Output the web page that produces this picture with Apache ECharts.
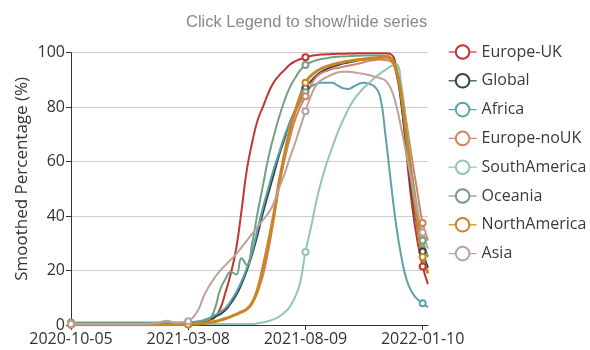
<!DOCTYPE html>
<html>
<head>
<meta charset="utf-8">
<script src="https://cdn.jsdelivr.net/npm/echarts@6/dist/echarts.min.js"></script>
<style>html,body{margin:0;padding:0;background:#fff;}#c{width:590px;height:350px;}</style>
</head>
<body>
<div id="c"></div>
<script>
const categories = [
'2020-10-05','2020-10-12','2020-10-19','2020-10-26','2020-11-02','2020-11-09','2020-11-16','2020-11-23','2020-11-30','2020-12-07',
'2020-12-14','2020-12-21','2020-12-28','2021-01-04','2021-01-11','2021-01-18','2021-01-25','2021-02-01','2021-02-08','2021-02-15',
'2021-02-22','2021-03-01','2021-03-08','2021-03-15','2021-03-22','2021-03-29','2021-04-05','2021-04-12','2021-04-19','2021-04-26',
'2021-05-03','2021-05-10','2021-05-17','2021-05-24','2021-05-31','2021-06-07','2021-06-14','2021-06-21','2021-06-28','2021-07-05',
'2021-07-12','2021-07-19','2021-07-26','2021-08-02','2021-08-09','2021-08-16','2021-08-23','2021-08-30','2021-09-06','2021-09-13',
'2021-09-20','2021-09-27','2021-10-04','2021-10-11','2021-10-18','2021-10-25','2021-11-01','2021-11-08','2021-11-15','2021-11-22',
'2021-11-29','2021-12-06','2021-12-13','2021-12-20','2021-12-27','2022-01-03','2022-01-10','2022-01-17'];

const europeUK = [0.2,0.2,0.2,0.2,0.2,0.2,0.2,0.2,0.2,0.2,0.3,0.3,0.3,0.3,0.3,0.3,0.4,0.4,0.4,0.4,0.4,0.5,
0.5,0.6,0.8,1.2,1.8,2.8,6,12,19,28,42,57,67,75,80,85,89,91.5,93.5,95.5,96.8,97.6,98.3,98.8,99.1,99.3,99.4,99.5,99.6,99.6,99.7,99.7,99.8,99.8,99.8,99.8,99.8,99.8,99.5,95,82,62,44,31,21.5,15];
const global = [0.4,0.4,0.4,0.4,0.4,0.4,0.4,0.4,0.4,0.4,0.4,0.4,0.4,0.4,0.4,0.4,0.5,0.5,0.5,0.5,0.5,0.5,
0.6,0.8,1.1,1.5,2.2,3,4,5.5,8,11,15,20,26,33,41,48,55,62,68,74,78.5,82.5,87,89.5,91.5,93,94,94.8,95.4,96,96.4,96.8,97.2,97.5,97.8,98,98.2,98.3,97.5,93,81,64,48,36,27,21];
const africa = [0.9,0.9,0.9,0.9,0.9,0.9,0.9,0.9,0.9,0.9,0.9,0.9,0.9,0.9,0.9,0.9,0.9,0.9,0.9,0.9,0.9,0.9,
0.9,1.1,1.4,1.9,2.6,3.6,4.8,6.3,8.8,12,16,21,27,35,43,50,57,63,69,74,78,82,85.5,87.5,88.5,89,89,89,88,87,86.7,87.5,88.5,89,88.5,87.5,84,70,53,37,25,16.5,12,9.5,8,6.5];
const europeNoUK = [0.3,0.3,0.3,0.3,0.3,0.3,0.3,0.3,0.3,0.3,0.3,0.3,0.3,0.3,0.3,0.3,0.3,0.3,0.3,0.3,0.3,0.3,
0.3,0.4,0.5,0.6,0.8,1.1,1.6,2.3,3,3.8,4.8,6,8,12,18,27,38,50,60,68,75,80,84,88,91,92.5,93.3,94,94.4,94.8,95.2,95.6,96,96.5,97,97.3,97.5,97.3,96.8,94,86,74,61,49,37.5,31];
const southAmerica = [0.4,0.4,0.4,0.4,0.4,0.4,0.4,0.4,0.4,0.4,0.4,0.4,0.4,0.4,0.4,0.4,0.4,0.4,0.4,0.4,0.4,0.4,
0.4,0.4,0.4,0.4,0.4,0.4,0.4,0.4,0.4,0.4,0.4,0.4,0.4,0.6,0.9,1.4,2.1,3,4.5,6.5,10,15.5,26.8,35.5,45,53,59.5,65,70.5,75,79,82.5,85,87.2,89,90.8,92.3,93.7,95,95.8,88,72,56,43,31,25];
const oceania = [0.6,0.6,0.6,0.6,0.6,0.6,0.6,0.6,0.6,0.6,0.6,0.6,0.6,0.6,0.6,0.6,0.6,0.6,0.6,0.6,0.6,0.6,
0.7,0.9,1.2,1.6,2.2,6,13,17,19.5,18.5,24.5,22,30,41,51,61,69,76,82,87,90.5,93.5,95.5,96.5,97.2,97.7,98,98.3,98.5,98.6,98.7,98.8,98.9,99,99,99,99,99,98.3,94.5,85,70,55,42,31,25];
const northAmerica = [0.1,0.1,0.1,0.1,0.1,0.1,0.1,0.1,0.1,0.1,0.1,0.1,0.1,0.1,0.1,0.1,0.1,0.1,0.1,0.1,0.1,0.2,
0.2,0.3,0.4,0.6,0.9,1.3,1.8,2.4,3.1,3.9,4.8,5.8,8.2,13,21,30,40,52,62,71,78,84,89,91.5,93,94.2,95,95.6,96.1,96.5,96.9,97.2,97.5,97.7,97.9,98.1,98.3,98.4,97.8,94,84,68,52,38,25,19];
const asia = [0.4,0.4,0.4,0.4,0.4,0.4,0.4,0.4,0.4,0.4,0.4,0.4,0.4,0.4,0.4,0.5,0.6,1.2,1.6,1.1,0.8,1.0,
1.4,3,6,11,14.5,17.5,20,22,24,26,28.5,31,33.5,36,38.5,41,44.5,50,55,61,66.5,72.5,78.5,84,88,90,91,92,92.7,93,93,92.8,92.5,92.2,91.7,91.2,90.6,89.8,87,81,72,62,52,42,34,28];

const seriesNames = ['Europe-UK','Global','Africa','Europe-noUK','SouthAmerica','Oceania','NorthAmerica','Asia'];
const seriesValues = [europeUK, global, africa, europeNoUK, southAmerica, oceania, northAmerica, asia];
const colors = ['#c23531','#2f4554','#61a0a8','#d48265','#91c7ae','#749f83','#ca8622','#bda29a'];

const font = 'Open Sans';
const chart = echarts.init(document.getElementById('c'), null, {renderer: 'canvas'});
chart.setOption({
  animation: false,
  color: colors,
  title: {
    text: 'Click Legend to show/hide series',
    left: 181, top: 9,
    textStyle: {fontFamily: 'Liberation Sans', fontSize: 16.5, fontWeight: 'normal', color: '#888'}
  },
  legend: {
    orient: 'vertical', left: 443, top: 39,
    itemWidth: 28, itemHeight: 17, itemGap: 12.8,
    itemStyle: {borderWidth: 1.2},
    lineStyle: {width: 1.2},
    textStyle: {fontFamily: font, fontSize: 16, color: '#3a3a3a'},
    data: seriesNames
  },
  grid: {left: 71, right: 162, top: 52.7, bottom: 25, containLabel: false},
  xAxis: {
    type: 'category', boundaryGap: false, data: categories,
    axisLine: {lineStyle: {color: '#333'}},
    axisTick: {interval: 21, lineStyle: {color: '#333'}},
    axisLabel: {interval: 21, fontFamily: font, fontSize: 16, color: '#333', margin: 6}
  },
  yAxis: {
    type: 'value', min: 0, max: 100, interval: 20,
    name: 'Smoothed Percentage (%)', nameLocation: 'middle', nameGap: 40,
    nameMoveOverlap: false,
    nameTextStyle: {fontFamily: font, fontSize: 17, color: '#333', padding: [0, 0, 0, 20]},
    axisLine: {show: true, lineStyle: {color: '#333'}},
    axisTick: {show: true, lineStyle: {color: '#333'}},
    axisLabel: {fontFamily: font, fontSize: 16, color: '#333', margin: 6},
    splitLine: {lineStyle: {color: '#ccc'}}
  },
  series: seriesNames.map((n, k) => ({
    name: n, type: 'line', smooth: true,
    data: seriesValues[k],
    symbol: 'emptyCircle', symbolSize: 6,
    itemStyle: {borderWidth: 1.5},
    lineStyle: {width: n === 'NorthAmerica' ? 3 : 2}
  }))
});
</script>
</body>
</html>
